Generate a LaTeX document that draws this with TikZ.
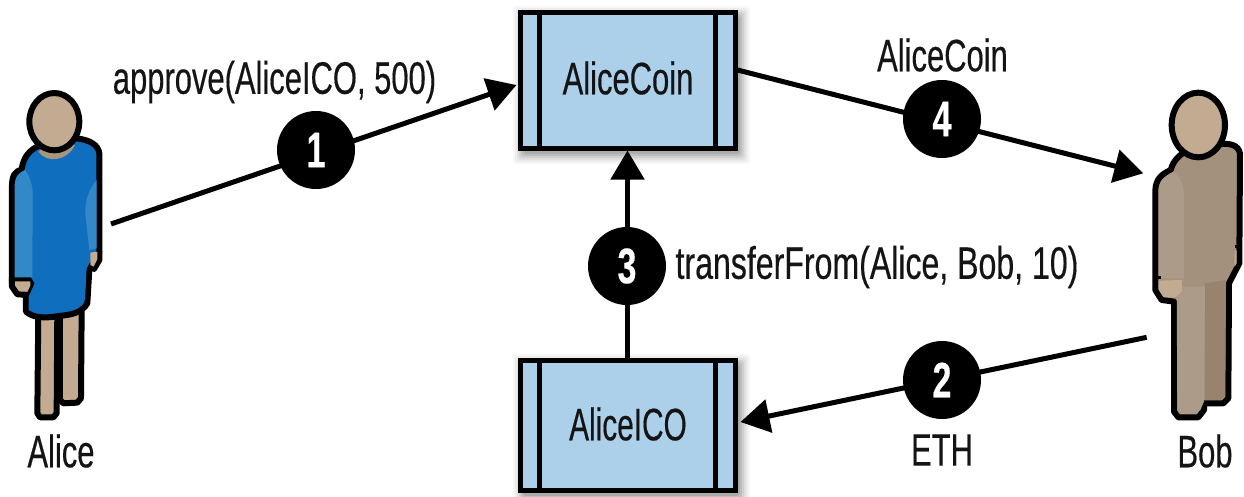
\documentclass[tikz,border=0pt]{standalone}
\usepackage{fontspec}
\setmainfont{Liberation Sans}[FakeStretch=0.68,FakeBold=0.35]
\newfontface\widerface{Liberation Sans}[FakeStretch=0.705,FakeBold=0.35]
\newfontface\narrowface{Liberation Sans}[FakeStretch=0.655,FakeBold=0.35]
\usetikzlibrary{arrows.meta,calc}
\definecolor{boxblue}{HTML}{ACD0EA}
\definecolor{skin}{HTML}{C2AB90}
\definecolor{dress}{HTML}{0F6FBE}
\definecolor{sleeve}{HTML}{3388C8}
\definecolor{collar}{HTML}{A8957E}
\definecolor{bobmain}{HTML}{A3917D}
\definecolor{bobdark}{HTML}{98836F}
\definecolor{bobmid}{HTML}{AC9B88}
\tikzset{
  x=1pt,y=-1pt,
  lbl/.style={font=\fontsize{45.5}{46}\selectfont,inner sep=0,text=black!92},
  numdisc/.style={circle,fill=black,minimum size=78pt,inner sep=0,text=white,font=\fontsize{50}{50}\selectfont\bfseries},
  contract/.style={draw=black,line width=5pt,fill=boxblue,minimum width=215pt,rectangle,inner sep=0},
  flow/.style={line width=5pt,-{Triangle[length=29pt,width=33pt]}},
  outline/.style={draw=black,line width=6pt,line join=round},
  stripe/.style={line width=5pt}
}
\newcommand{\softshadow}[4]{%
  \foreach \d/\o in {1/.09,3/.08,5/.07,7/.05,9/.04,11/.03}{%
    \fill[black,opacity=\o,rounded corners=3pt] (#1-\d+4,#2-\d+5) rectangle (#3+\d+4,#4+\d+5);}}
\begin{document}
\begin{tikzpicture}
\useasboundingbox (0,0) rectangle (1244,496);
\fill[white] (0,0) rectangle (1244,496);
\clip (0,0) rectangle (1244,496);

% shadows
\softshadow{520}{12}{735}{148}
\softshadow{520}{360}{735}{490}

% contracts
\node[contract,minimum height=136pt] (coin) at (627.5,80) {};
\node[contract,minimum height=130pt] (ico) at (627.5,425) {};
\foreach \b in {coin,ico}{
  \draw[stripe] ([xshift=22pt]\b.north west) -- ([xshift=22pt]\b.south west);
  \draw[stripe] ([xshift=-22pt]\b.north east) -- ([xshift=-22pt]\b.south east);
}
\node[lbl] (coinlabel) at (628,78) {AliceCoin};
\node[lbl] (icolabel) at (628,424) {\narrowface AliceICO};

% Alice
\begin{scope}[shift={(0,70)},x=0.3333pt,y=-0.3333pt]
  \def\alicelegA{(115,720) -- (112,1030) -- (120,1042) -- (160,1042) -- (170,1030) -- (172,720) -- cycle}
  \def\alicelegB{(180,720) -- (180,990) -- (190,1000) -- (232,998) -- (243,985) -- (245,720) -- cycle}
  \path[outline,fill=skin] \alicelegB;
  \path[outline,fill=skin] \alicelegA;
  \fill[black] (165,740) rectangle (188,990);
  \def\alicehandL{(36,625) -- (36,650) -- (52,673) -- (88,675) -- (100,650) -- (100,625) -- cycle}
  \def\alicehandR{(268,545) -- (268,590) -- (282,597) -- (298,570) -- (298,545) -- cycle}
  \def\alicebody{(115,228) .. controls (90,240) and (70,260) .. (65,298) .. controls (45,305) and (37,315) .. (36,345) -- (36,640) -- (78,680) -- (78,725) .. controls (100,745) and (140,745) .. (175,738) .. controls (210,735) and (245,730) .. (262,700) -- (268,600) -- (298,545) -- (298,250) .. controls (295,225) and (270,210) .. (230,205) -- cycle}
  \path[outline,fill=skin] \alicehandR;
  \path[outline,fill=dress] \alicebody;
  \path[outline,fill=skin] \alicehandL;
  \fill[skin] (271,548) -- (292,545) -- (292,568) -- (281,590) -- (271,585) -- cycle;
  \fill[dress] (92,620) -- (104,640) -- (86,680) -- (86,722) -- (255,690) -- (262,545) -- (200,500) -- cycle;
  \fill[sleeve] (44,345) .. controls (45,320) and (60,305) .. (75,300) .. controls (90,320) and (98,345) .. (98,375) -- (97,622) -- (44,622) -- cycle;
  \fill[sleeve] (290,330) .. controls (265,360) and (250,400) .. (258,450) -- (268,540) -- (290,535) -- cycle;
  \fill[collar] (115,245) .. controls (140,280) and (200,275) .. (225,225) -- (160,210) -- cycle;
  \draw[black,line width=6pt,fill=skin] (163,155) ellipse (75 and 86);
  \coordinate (alicehand) at (333,462);
\end{scope}

% Bob
\begin{scope}[shift={(1130,70)},x=0.3333pt,y=-0.3333pt]
  \def\bobbody{(165,245) .. controls (150,255) and (130,270) .. (122,300) .. controls (90,315) and (78,330) .. (76,360) -- (76,660) -- (95,690) -- (132,695) -- (132,1025) -- (145,1042) -- (205,1042) -- (222,1020) -- (222,1000) -- (280,1000) -- (295,985) -- (297,640) -- (328,580) -- (330,250) .. controls (325,225) and (300,220) .. (275,222) -- cycle}
  \path[outline,fill=bobmain] \bobbody;
  \fill[bobmid] (86,360) .. controls (87,335) and (100,320) .. (130,305) .. controls (150,320) and (160,340) .. (162,370) -- (162,625) -- (86,625) -- cycle;
  \fill[bobmid] (140,650) -- (225,650) -- (222,995) -- (212,1018) -- (200,1032) -- (150,1032) -- (142,1020) -- cycle;
  \fill[bobdark] (225,640) -- (287,630) -- (285,980) -- (276,990) -- (225,990) -- cycle;
  \fill[skin] (86,632) -- (157,630) -- (155,665) -- (135,683) -- (100,681) -- (86,660) -- cycle;
  \fill[skin] (314,545) -- (320,540) -- (320,580) -- (314,590) -- cycle;
  \draw[line width=3.3pt] (72,622) -- (92,622);
  \draw[line width=2.6pt] (315,530) -- (330,530);
  \draw[black,line width=6pt,fill=skin] (205,165) ellipse (80 and 97);
  \coordinate (bobhand) at (50,802);
  \coordinate (bobchest) at (40,310);
\end{scope}

% connectors
\coordinate (coinin) at ($(coin.west)+(-1,5)$);
\coordinate (coinout) at ($(coin.east)+(0,-10)$);
\coordinate (icoin) at ($(ico.east)+(3,-3)$);
\draw[flow] (alicehand) -- (coinin);
\draw[flow] (bobhand) -- (icoin);
\draw[flow] (ico.north) -- (coin.south);
\draw[flow] (coinout) -- (bobchest);

% discs
\node[numdisc] (n1) at (316,150) {1};
\node[numdisc] (n2) at (942,380) {2};
\node[numdisc] (n3) at (627,266) {3};
\node[numdisc] (n4) at (942,119) {4};

% labels
\node[lbl] (t1) at (274.5,82) {approve(AliceICO, 500)};
\node[lbl] (t4) at (942.5,55) {AliceCoin};
\node[lbl] (t3) at (877,267) {\widerface transferFrom(Alice, Bob, 10)};
\node[lbl] (t2) at (942,450) {ETH};
\node[lbl] (ta) at (61,451) {Alice};
\node[lbl] (tb) at (1205,451) {Bob};
\end{tikzpicture}
\end{document}
